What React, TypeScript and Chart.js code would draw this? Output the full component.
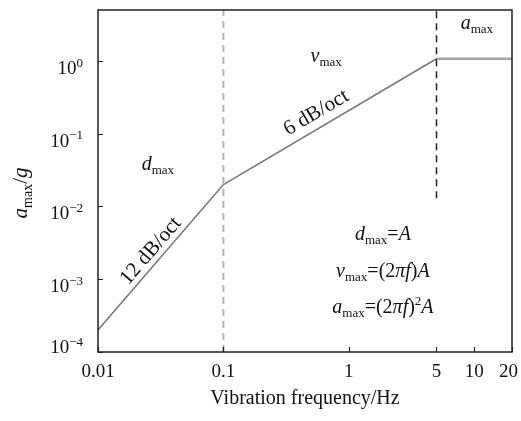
import React, { useEffect, useRef } from "react";
import { Chart, registerables } from "chart.js";

Chart.register(...registerables);

// ---- data ----
const curveX = [0.01, 0.1, 5];
const curveY = [2e-4, 0.02, 1.07];
const plateauX = [5, 20];
const plateauY = [1.07, 1.07];
const dashLowX = [0.1, 0.1];
const dashLowY = [1e-4, 5];
const dashHighX = [5, 5];
const dashHighY = [0.013, 5];

const xTickValues = [0.01, 0.1, 1, 5, 10, 20];
const xTickLabels = ["0.01", "0.1", "1", "5", "10", "20"];
const yTickValues = [1e-4, 1e-3, 1e-2, 1e-1, 1];
const yTickExponents = ["\u22124", "\u22123", "\u22122", "\u22121", "0"];

const xTitle = "Vibration frequency/Hz";
const slopeLabels = ["12 dB/oct", "6 dB/oct"];
const slopeLabelX = [0.031, 0.63];

const FAM = '"Liberation Serif", "Times New Roman", serif';

type Seg = { t: string; it?: boolean; sub?: boolean; sup?: boolean };

function drawRich(
  ctx: CanvasRenderingContext2D,
  segs: Seg[],
  x: number,
  y: number,
  size: number,
  align: "left" | "center" | "right"
) {
  const small = Math.round(size * 0.66);
  const fontOf = (s: Seg) =>
    `${s.it ? "italic " : ""}${s.sub || s.sup ? small : size}px ${FAM}`;
  const widths = segs.map((s) => {
    ctx.font = fontOf(s);
    return ctx.measureText(s.t).width;
  });
  const total = widths.reduce((a, b) => a + b, 0);
  let cx = align === "center" ? x - total / 2 : align === "right" ? x - total : x;
  ctx.textAlign = "left";
  ctx.textBaseline = "alphabetic";
  segs.forEach((s, i) => {
    ctx.font = fontOf(s);
    const dy = s.sub ? size * 0.22 : s.sup ? -size * 0.38 : 0;
    ctx.fillText(s.t, cx, y + dy);
    cx += widths[i];
  });
}

const pts = (xs: number[], ys: number[]) => xs.map((x, i) => ({ x, y: ys[i] }));

const decorPlugin = {
  id: "decor",
  afterDraw(chart: any) {
    const ctx: CanvasRenderingContext2D = chart.ctx;
    const xs = chart.scales.x;
    const ys = chart.scales.y;
    const { left, right, top, bottom } = chart.chartArea;
    ctx.save();
    // frame
    ctx.strokeStyle = "#222";
    ctx.lineWidth = 1.5;
    ctx.strokeRect(left, top, right - left, bottom - top);
    // ticks (inward)
    ctx.lineWidth = 1.2;
    ctx.beginPath();
    xTickValues.forEach((v) => {
      const px = Math.round(xs.getPixelForValue(v)) + 0.5;
      ctx.moveTo(px, bottom);
      ctx.lineTo(px, bottom - 5);
    });
    yTickValues.forEach((v) => {
      const py = Math.round(ys.getPixelForValue(v)) + 0.5;
      ctx.moveTo(left, py);
      ctx.lineTo(left + 5, py);
    });
    ctx.stroke();

    ctx.fillStyle = "#111";
    // x tick labels
    ctx.font = `19px ${FAM}`;
    ctx.textBaseline = "alphabetic";
    xTickValues.forEach((v, i) => {
      const px = xs.getPixelForValue(v);
      const w = ctx.measureText(xTickLabels[i]).width;
      let cx = px;
      if (cx + w / 2 > chart.width - 3) cx = chart.width - 3 - w / 2;
      ctx.textAlign = "center";
      ctx.fillText(xTickLabels[i], cx, bottom + 25);
    });
    // y tick labels
    yTickValues.forEach((v, i) => {
      const py = ys.getPixelForValue(v);
      const base = Math.min(py + 13, bottom + 1);
      drawRich(ctx, [{ t: "10" }, { t: yTickExponents[i], sup: true }], left - 15, base, 19, "right");
    });
    // x title
    ctx.font = `20px ${FAM}`;
    ctx.textAlign = "center";
    ctx.fillText(xTitle, (left + right) / 2, bottom + 52);
    // y title
    ctx.save();
    ctx.translate(27, (top + bottom) / 2 + 12);
    ctx.rotate(-Math.PI / 2);
    drawRich(ctx, [{ t: "a", it: true }, { t: "max", sub: true }, { t: "/" }, { t: "g", it: true }], 0, 0, 21, "center");
    ctx.restore();

    // slope labels
    const segPts = [
      [0, 1],
      [1, 2],
    ];
    slopeLabels.forEach((lab, k) => {
      const [a, b] = segPts[k];
      const x1 = xs.getPixelForValue(curveX[a]);
      const y1 = ys.getPixelForValue(curveY[a]);
      const x2 = xs.getPixelForValue(curveX[b]);
      const y2 = ys.getPixelForValue(curveY[b]);
      const ang = Math.atan2(y2 - y1, x2 - x1);
      const px = xs.getPixelForValue(slopeLabelX[k]);
      const py = y1 + ((px - x1) * (y2 - y1)) / (x2 - x1);
      ctx.save();
      ctx.translate(px, py);
      ctx.rotate(ang);
      ctx.font = `21px ${FAM}`;
      ctx.textAlign = "center";
      ctx.textBaseline = "alphabetic";
      ctx.fillText(lab, 0, k === 0 ? -6 : -9);
      ctx.restore();
    });

    // region labels
    const dx = (v: number) => xs.getPixelForValue(v);
    const dy = (v: number) => ys.getPixelForValue(v);
    drawRich(ctx, [{ t: "d", it: true }, { t: "max", sub: true }], dx(0.03), dy(0.032), 20, "center");
    drawRich(ctx, [{ t: "v", it: true }, { t: "max", sub: true }], dx(0.66), dy(0.97), 20, "center");
    drawRich(ctx, [{ t: "a", it: true }, { t: "max", sub: true }], dx(10.5), dy(2.76), 20, "center");

    // formulas
    const fx = dx(1.87);
    drawRich(ctx, [{ t: "d", it: true }, { t: "max", sub: true }, { t: "=" }, { t: "A", it: true }], fx, dy(0.0035), 20, "center");
    drawRich(
      ctx,
      [{ t: "v", it: true }, { t: "max", sub: true }, { t: "=(2" }, { t: "\u03c0f", it: true }, { t: ")" }, { t: "A", it: true }],
      fx,
      dy(0.00108),
      20,
      "center"
    );
    drawRich(
      ctx,
      [
        { t: "a", it: true },
        { t: "max", sub: true },
        { t: "=(2" },
        { t: "\u03c0f", it: true },
        { t: ")" },
        { t: "2", sup: true },
        { t: "A", it: true },
      ],
      fx,
      dy(0.000345),
      20,
      "center"
    );
    ctx.restore();
  },
};

export default function App() {
  const ref = useRef<HTMLCanvasElement | null>(null);
  useEffect(() => {
    if (!ref.current) return;
    const chart = new Chart(ref.current, {
      type: "scatter",
      data: {
        datasets: [
          {
            data: pts(dashLowX, dashLowY),
            showLine: true,
            borderColor: "#b3b3b3",
            borderWidth: 2,
            borderDash: [7, 5],
            pointRadius: 0,
          },
          {
            data: pts(dashHighX, dashHighY),
            showLine: true,
            borderColor: "#222",
            borderWidth: 1.5,
            borderDash: [7, 5],
            pointRadius: 0,
          },
          {
            data: pts(curveX, curveY),
            showLine: true,
            borderColor: "#7a7a7a",
            borderWidth: 1.6,
            pointRadius: 0,
          },
          {
            data: pts(plateauX, plateauY),
            showLine: true,
            borderColor: "#a6a6a6",
            borderWidth: 2.5,
            pointRadius: 0,
          },
        ],
      },
      options: {
        responsive: false,
        animation: false,
        layout: { padding: { left: 98, right: 9, top: 10, bottom: 69 } },
        plugins: { legend: { display: false }, tooltip: { enabled: false } },
        scales: {
          x: { type: "logarithmic", min: 0.01, max: 20, display: false },
          y: { type: "logarithmic", min: 1e-4, max: 5, display: false },
        },
      },
      plugins: [decorPlugin],
    });
    return () => chart.destroy();
  }, []);
  return (
    <div style={{ position: "fixed", left: 0, top: 0, width: 521, height: 421, background: "#fff" }}>
      <canvas ref={ref} width={521} height={421} />
    </div>
  );
}
